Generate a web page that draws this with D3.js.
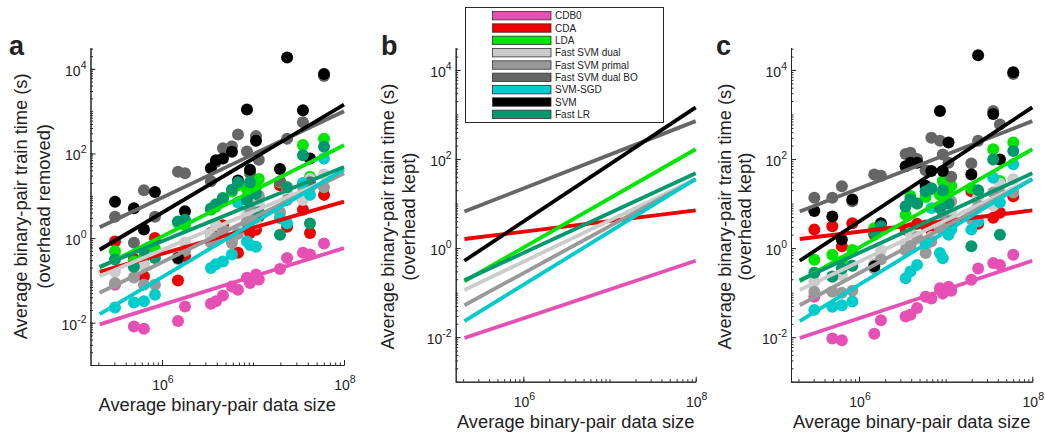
<!DOCTYPE html>
<html>
<head>
<meta charset="utf-8">
<script src="https://cdn.jsdelivr.net/npm/d3@7"></script>
<style>
  body { margin: 0; background: #fff; }
  svg { display: block; }
  text { font-family: "Liberation Sans", Arial, Helvetica, sans-serif; fill: #222; }
</style>
</head>
<body>
<svg id="chart" width="1045" height="434"></svg>
<script>
// Average binary-pair data size of each dataset
const dataSizes = [3.05e5, 4.92e5, 6.34e5, 8.38e5, 1.50e6, 1.79e6, 3.45e6, 3.92e6, 4.68e6, 5.87e6,
                   6.84e6, 8.59e6, 9.27e6, 1.08e7, 1.16e7, 1.98e7, 2.37e7, 3.54e7, 4.23e7, 6.03e7];

const algorithms = ["CDB0", "CDA", "LDA", "Fast SVM dual", "Fast SVM primal",
                    "Fast SVM dual BO", "SVM-SGD", "SVM", "Fast LR"];
const algoColors = ["#e64fb4", "#ee0000", "#00e600", "#cccccc", "#999999",
                    "#666666", "#00cccc", "#000000", "#00996f"];

// Train time (s), overhead removed
const cdb0Removed       = [0.079, 0.0081, 0.0072, null, 0.011, 0.024, 0.028, 0.032, 0.044, 0.072, 0.060, 0.115, 0.087, 0.138, 0.105, 0.186, 0.34, 0.45, 0.41, 0.74];
const cdaRemoved        = [0.83, 0.32, 0.126, 1.0, 0.10, 0.37, 1.32, 1.58, 2.0, 0.91, 0.45, 2.0, 1.32, 1.58, 3.2, 17.8, 1.86, 4.7, 1.32, 10.5];
const ldaRemoved        = [0.49, 0.28, 0.35, 0.56, 2.3, 2.0, 4.7, 5.6, 8.9, 12.6, 17.8, 14.1, 34, 15.8, 25, 21, 15.8, 158, 28, 224];
const svmDualRemoved    = [0.16, 0.20, 0.23, 0.35, 0.40, 0.79, 1.12, 2.0, 1.41, 0.91, 1.58, 3.5, 7.9, 2.2, 6.3, 4.0, 12.6, 7.9, 25, 32];
const svmPrimalRemoved  = [0.087, 0.117, 0.079, 0.079, 0.32, 0.50, 0.79, 1.0, 1.58, 0.76, 1.26, 2.5, 5.0, 3.2, 10, 4.0, 7.9, 15.8, 15.8, 15.8];
const svmDualBORemoved  = [3.2, 0.78, 13.5, 3.2, 37, 34, 22, 63, 132, 148, 280, 112, 35, 257, 71, 22, 224, 550, 21, 6800];
const svmSgdRemoved     = [0.023, 0.030, 0.032, 0.046, null, null, 0.195, 0.24, 0.28, 0.41, 6.9, 0.83, 0.69, 0.62, 4.0, 2.95, 2.24, 20, 10.5, 76];
const svmRemoved        = [7.2, 5.1, 1.6, 12.3, 0.34, 4.3, 45, 69, 76, 110, 23, 1100, 41, 200, null, 43, 18600, 1050, 76, 7600];
const fastLrRemoved     = [0.31, 0.21, 0.50, 0.34, 2.45, 2.7, 5.0, 6.3, 8.7, 13.8, 21, 7.9, 21, 11.2, 4.0, 1.2, 15.8, 91, 2.2, 145];

// Train time (s), overhead kept
const cdb0Kept       = [0.081, 0.0093, 0.0085, null, 0.012, 0.024, 0.029, 0.032, 0.045, 0.081, 0.074, 0.126, 0.095, 0.135, 0.11, 0.195, 0.35, 0.46, 0.42, 0.71];
const cdaKept        = [2.6, 3.1, 1.1, 3.6, 2.0, 2.8, 2.6, 2.8, 3.5, 3.2, 2.5, 4.0, 3.5, 5.0, 4.5, 19, 3.5, 4.8, 6.2, 14.5];
const ldaKept        = [0.55, 0.71, 0.50, 0.91, 2.8, 2.5, 5.6, 14.8, 10, 14.1, 21, 15.8, 32, 17.8, 25, 22, 19, 166, 32, 234];
const svmDualKept    = [0.18, 0.22, 0.25, 0.40, 0.45, 0.89, 1.26, 2.2, 1.58, 1.0, 1.78, 4.0, 8.9, 2.5, 7.1, 4.5, 14.1, 8.9, 28, 35];
const svmPrimalKept  = [0.105, 0.105, 0.10, 0.11, 0.35, 0.56, 0.89, 1.12, 1.78, 0.78, 1.41, 2.8, 5.6, 3.5, 11.2, 4.5, 8.9, 17.8, 17.8, 17.8];
const svmDualBOKept  = [13.5, 13.5, 24.5, 11.2, 45, 42, 129, 138, 100, 56, 302, 257, 126, 83, 40, 79, 257, 1200, 600, 8100];
const svmSgdKept     = [0.041, 0.048, 0.052, 0.063, null, null, 0.21, 0.30, 0.42, 1.29, 7.9, 0.78, 0.59, 2.0, 2.6, 2.6, 4.0, 38, 10.5, 76];
const svmKept        = [6.8, 5.1, 1.55, 12.3, 0.39, 3.6, 69, 83, 83, 25, 54, 1200, 54, 234, null, 45, 21400, 1020, 98, 8900];
const fastLrKept     = [0.28, 0.23, 0.35, 0.40, 2.2, 3.1, 8.7, 12.3, 10, 19, 22, 7.9, 20, 10, 4.0, 1.1, 20, 98, 2.0, 151];

// Power-law fits: train time at the smallest and largest fitted data size
const fitSizes = [2.07e5, 1e8];
const fitRemovedStart = [0.0091, 0.16, 0.20, 0.125, 0.051, 1.8, 0.016, 0.53, 0.21];
const fitRemovedEnd   = [0.58, 7.3, 157, 34, 34, 1000, 42, 1420, 48];
const fitKeptStart    = [0.0096, 1.6, 0.18, 0.115, 0.052, 6.6, 0.023, 0.52, 0.19];
const fitKeptEnd      = [0.52, 7.0, 166, 35, 35, 710, 36, 1450, 48];

const xTickLabels = [[1e6, "6"], [1e8, "8"]];
const yTickLabels = [[1e-2, "-2"], [1e0, "0"], [1e2, "2"], [1e4, "4"]];

const removedTimes = [cdb0Removed, cdaRemoved, ldaRemoved, svmDualRemoved, svmPrimalRemoved,
                      svmDualBORemoved, svmSgdRemoved, svmRemoved, fastLrRemoved];
const keptTimes = [cdb0Kept, cdaKept, ldaKept, svmDualKept, svmPrimalKept,
                   svmDualBOKept, svmSgdKept, svmKept, fastLrKept];

const svg = d3.select("#chart");
const xDomain = [Math.pow(10, 5.215), 1e8];
const yDomain = [1e-3, Math.pow(10, 4.5)];

function minorTicks(lo, hi) {
  const out = [];
  for (let e = Math.floor(Math.log10(lo)); e <= Math.ceil(Math.log10(hi)); e++) {
    for (let m = 1; m <= 9; m++) {
      const v = m * Math.pow(10, e);
      if (v >= lo * 0.999 && v <= hi * 1.001) out.push(v);
    }
  }
  return out;
}

function drawPanel(cfg) {
  const x = d3.scaleLog().domain(xDomain).range([cfg.left, cfg.right]);
  const y = d3.scaleLog().domain(yDomain).range([cfg.bottom, cfg.top]);
  const g = svg.append("g");

  // scatter of per-dataset times
  if (cfg.times) {
    cfg.times.forEach((arr, k) => {
      const pts = arr.map((v, i) => ({ s: dataSizes[i], t: v })).filter(d => d.t != null);
      g.append("g").selectAll("circle").data(pts).join("circle")
        .attr("cx", d => x(d.s)).attr("cy", d => y(d.t))
        .attr("r", 6).attr("fill", algoColors[k]);
    });
  }

  // fitted lines
  const line = d3.line().x(d => x(d[0])).y(d => y(d[1]));
  cfg.fitStart.forEach((v, k) => {
    g.append("path")
      .attr("d", line([[fitSizes[0], v], [fitSizes[1], cfg.fitEnd[k]]]))
      .attr("stroke", algoColors[k]).attr("stroke-width", 3.8)
      .attr("fill", "none");
  });

  // axes, ticks pointing inward
  const axisColor = "#262626";
  const yMinor = d3.axisLeft(y).tickValues(minorTicks(yDomain[0], yDomain[1]))
    .tickSizeInner(-2.5).tickSizeOuter(0).tickFormat("");
  const yMajor = d3.axisLeft(y).tickValues(yTickLabels.map(d => d[0]))
    .tickSizeInner(-5).tickSizeOuter(0).tickFormat("");
  const xMinor = d3.axisBottom(x).tickValues(minorTicks(xDomain[0], xDomain[1]))
    .tickSizeInner(-2.5).tickSizeOuter(0).tickFormat("");
  const xMajor = d3.axisBottom(x).tickValues(xTickLabels.map(d => d[0]))
    .tickSizeInner(-5).tickSizeOuter(0).tickFormat("");

  [yMinor, yMajor].forEach(a => {
    const ag = g.append("g").attr("transform", `translate(${cfg.left},0)`).call(a);
    ag.selectAll("path,line").attr("stroke", axisColor);
  });
  [xMinor, xMajor].forEach(a => {
    const ag = g.append("g").attr("transform", `translate(0,${cfg.bottom})`).call(a);
    ag.selectAll("path,line").attr("stroke", axisColor);
  });

  // tick labels as powers of ten
  yTickLabels.forEach(([v, p]) => {
    const t = g.append("text").attr("x", cfg.left - 4).attr("y", y(v) + 7)
      .attr("text-anchor", "end").attr("font-size", 14);
    t.append("tspan").text("10");
    t.append("tspan").attr("dy", -7).attr("font-size", 10.5).text(p);
  });
  xTickLabels.forEach(([v, p]) => {
    const t = g.append("text").attr("x", x(v) + 1).attr("y", cfg.bottom + 25)
      .attr("text-anchor", "middle").attr("font-size", 14);
    t.append("tspan").text("10");
    t.append("tspan").attr("dy", -7).attr("font-size", 10.5).text(p);
  });

  // axis titles
  g.append("text").attr("x", (cfg.left + cfg.right) / 2).attr("y", cfg.bottom + 46)
    .attr("text-anchor", "middle").attr("font-size", 18.3)
    .text("Average binary-pair data size");
  const cy = (cfg.top + cfg.bottom) / 2 + cfg.yShift;
  [["Average binary-pair train time (s)", cfg.left - cfg.ylab1], [cfg.ySub, cfg.left - cfg.ylab2]]
    .forEach(([txt, xx]) => {
      g.append("text").attr("transform", `translate(${xx},${cy}) rotate(-90)`)
        .attr("text-anchor", "middle").attr("dy", "0.35em").attr("font-size", 18.3)
        .text(txt);
    });

  g.append("text").attr("x", cfg.letterX).attr("y", 55)
    .attr("font-size", 27).attr("font-weight", "bold").attr("fill", "#000").text(cfg.letter);
}

drawPanel({ left: 90.5, right: 344, top: 47.7, bottom: 365, times: removedTimes,
  fitStart: fitRemovedStart, fitEnd: fitRemovedEnd, ySub: "(overhead removed)",
  ylab1: 70, ylab2: 47, yShift: 0, letter: "a", letterX: 9 });
drawPanel({ left: 455.7, right: 695.7, top: 47.7, bottom: 381.7, times: null,
  fitStart: fitKeptStart, fitEnd: fitKeptEnd, ySub: "(overhead kept)",
  ylab1: 68, ylab2: 47, yShift: 2, letter: "b", letterX: 381 });
drawPanel({ left: 791, right: 1032.3, top: 47.7, bottom: 381.7, times: keptTimes,
  fitStart: fitKeptStart, fitEnd: fitKeptEnd, ySub: "(overhead kept)",
  ylab1: 66, ylab2: 46, yShift: 2, letter: "c", letterX: 716 });

// legend
const legend = svg.append("g");
legend.append("rect").attr("x", 465.5).attr("y", 7.5).attr("width", 198).attr("height", 115)
  .attr("fill", "#fff").attr("stroke", "#262626").attr("stroke-width", 1);
algorithms.forEach((name, k) => {
  const yy = 15.7 + k * 12.33;
  legend.append("rect").attr("x", 492.5).attr("y", yy - 4.2).attr("width", 58.5).attr("height", 8.4)
    .attr("fill", algoColors[k]).attr("stroke", "#333").attr("stroke-width", 0.8);
  legend.append("text").attr("x", 555).attr("y", yy + 3.7).attr("font-size", 10).text(name);
});
</script>
</body>
</html>
